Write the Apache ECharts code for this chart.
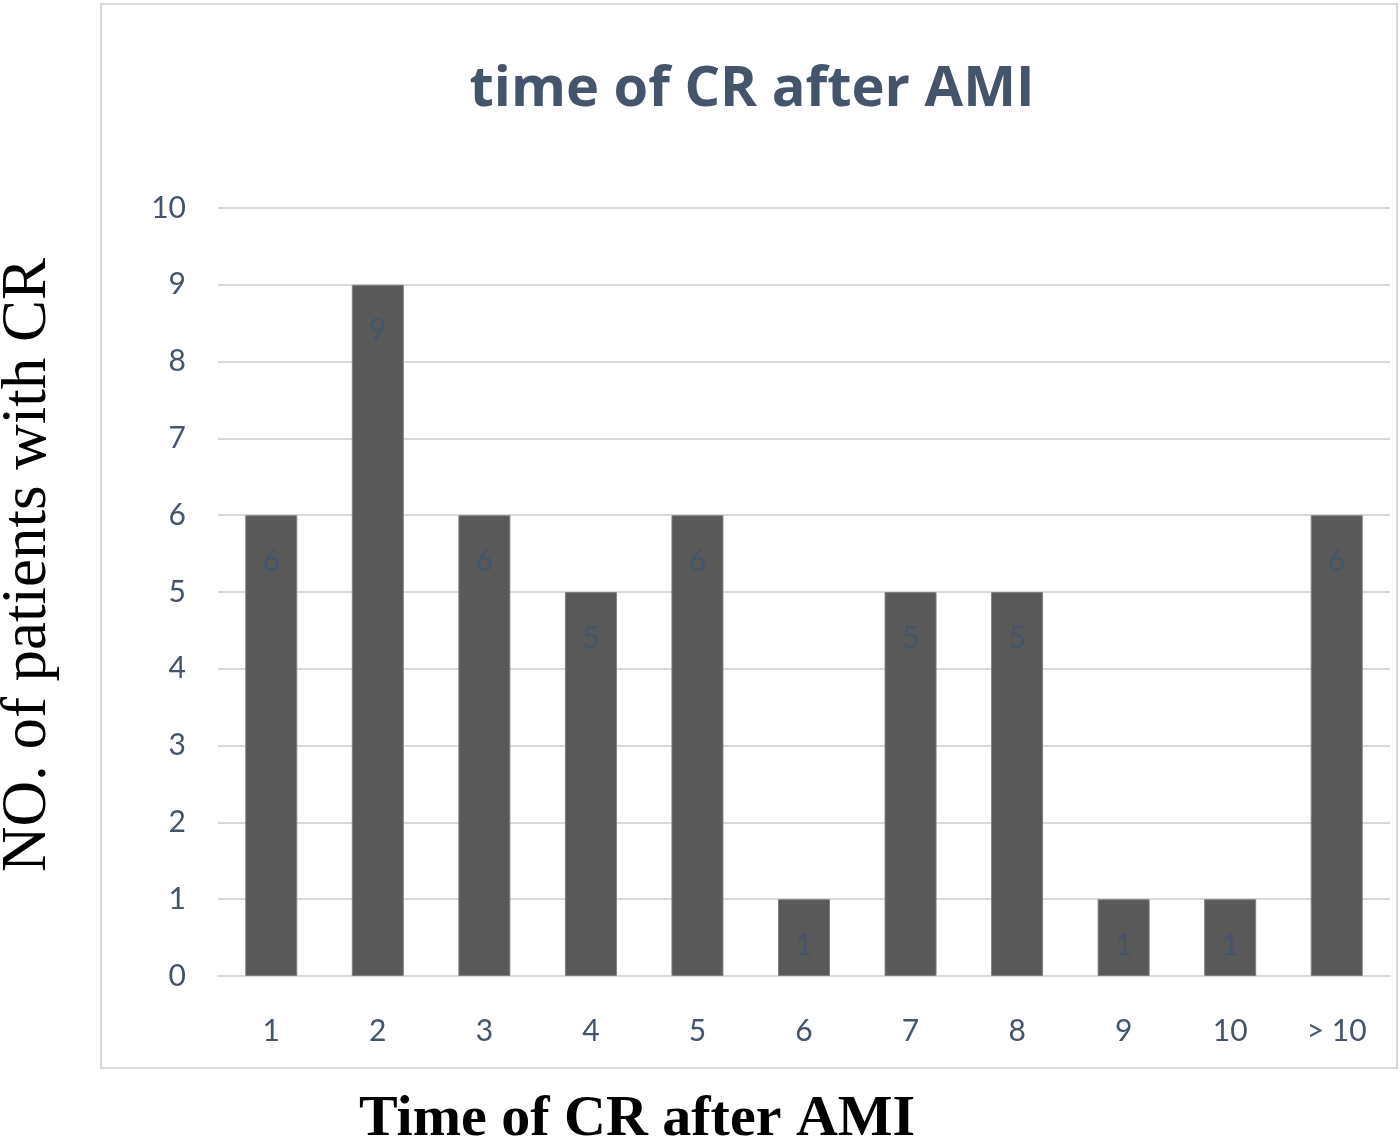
<!DOCTYPE html>
<html>
<head>
<meta charset="utf-8">
<script src="https://cdn.jsdelivr.net/npm/echarts@6/dist/echarts.min.js"></script>
<style>
html,body{margin:0;padding:0;background:#fff;}
#c{width:1400px;height:1147px;}
</style>
</head>
<body>
<div id="c"></div>
<script>
const categories = ['1','2','3','4','5','6','7','8','9','10','> 10'];
const patients = [6, 9, 6, 5, 6, 1, 5, 5, 1, 1, 6];
const yTicks = [0,1,2,3,4,5,6,7,8,9,10];

const chart = echarts.init(document.getElementById('c'));
chart.setOption({
  backgroundColor: '#ffffff',
  animation: false,
  title: {
    text: 'time of CR after AMI',
    left: 747, top: 57, textAlign: 'center',
    textStyle: {fontFamily: 'Open Sans', fontWeight: 'bold', fontSize: 56, color: '#44546a'}
  },
  graphic: [
    {type: 'rect', shape: {x: 101, y: 4, width: 1296, height: 1064},
     style: {fill: 'none', stroke: '#d9d9d9', lineWidth: 2}, z: -1},
    {type: 'text', x: 28, y: 565, rotation: Math.PI/2, origin: [0,0],
     style: {text: 'NO. of patients with CR', fontFamily: 'Liberation Serif', fontSize: 63,
             fill: '#000', textAlign: 'center', textVerticalAlign: 'middle'}},
    {type: 'text', x: 637, y: 1120,
     style: {text: 'Time of CR after AMI', fontFamily: 'Liberation Serif', fontWeight: 'bold', fontSize: 58,
             fill: '#000', textAlign: 'center', textVerticalAlign: 'middle'}}
  ],
  grid: {left: 218, right: 10, top: 208, bottom: 171, containLabel: false},
  xAxis: {
    type: 'category', data: categories,
    axisLine: {lineStyle: {color: '#d9d9d9', width: 2}},
    axisTick: {show: false},
    axisLabel: {fontFamily: 'Lato', fontSize: 30, color: '#44546a', margin: 40}
  },
  yAxis: {
    type: 'value', min: yTicks[0], max: yTicks[yTicks.length-1], interval: 1,
    axisLine: {show: false}, axisTick: {show: false},
    splitLine: {lineStyle: {color: '#d9d9d9', width: 2}},
    axisLabel: {fontFamily: 'Lato', fontSize: 30, color: '#44546a', margin: 32}
  },
  series: [{
    type: 'bar', data: patients, barWidth: 52,
    itemStyle: {color: '#595959', borderColor: '#7f7f7f', borderWidth: 1},
    label: {show: true, position: 'insideTop', distance: 31, fontFamily: 'Lato', fontSize: 30, color: '#44546a'}
  }]
});
</script>
</body>
</html>
